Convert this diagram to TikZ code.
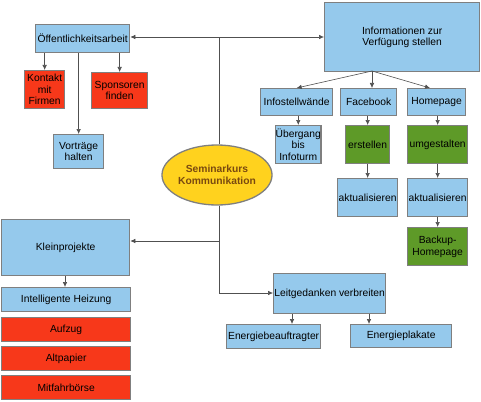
\documentclass[tikz,border=0pt]{standalone}
\usepackage{fontspec}
\setmainfont{Liberation Sans}
\usetikzlibrary{arrows.meta,shapes.geometric}
\definecolor{boxblue}{HTML}{95C9EC}
\definecolor{boxred}{HTML}{F7381A}
\definecolor{boxgreen}{HTML}{5E9A28}
\definecolor{elyellow}{HTML}{FFD21E}
\definecolor{bordergray}{HTML}{7F7F7F}
\definecolor{linegray}{HTML}{505050}
\definecolor{eltext}{HTML}{7A4A10}
\tikzset{
  box/.style={draw=bordergray, line width=1.3pt, inner sep=0pt, align=center,
    anchor=north west, font=\fontsize{10.3}{11.6}\selectfont},
  bluebox/.style={box, fill=boxblue},
  redbox/.style={box, fill=boxred},
  greenbox/.style={box, fill=boxgreen},
  conn/.style={draw=linegray, line width=0.6pt},
  arr/.style={conn, -{Latex[length=5pt,width=4.5pt]}},
}
\begin{document}
\begin{tikzpicture}[x=1pt,y=-1pt]
\useasboundingbox (0,0) rectangle (481,401);
% boxes: anchor north west at (x1,y1), size
\node[bluebox, minimum width=94pt, minimum height=28pt] (oeff) at (35,24) {Öffentlichkeitsarbeit};
\node[redbox, minimum width=40pt, minimum height=38pt] (kontakt) at (24,70) {Kontakt\\mit\\Firmen};
\node[redbox, minimum width=56pt, minimum height=36pt] (spons) at (91,72) {Sponsoren\\finden};
\node[bluebox, minimum width=50pt, minimum height=34pt] (vortr) at (53,134) {Vorträge\\halten};
\node[bluebox, minimum width=155pt, minimum height=69pt] (info) at (324,2) {Informationen zur\\Verfügung stellen};
\node[bluebox, minimum width=72pt, minimum height=27pt] (infost) at (260,88) {Infostellwände};
\node[bluebox, minimum width=56pt, minimum height=27pt] (fb) at (340,88) {Facebook};
\node[bluebox, minimum width=58pt, minimum height=27pt] (hp) at (407,88) {Homepage};
\node[bluebox, minimum width=44pt, minimum height=38pt] (ueber) at (275,125) {Übergang\\bis\\Infoturm};
\node[greenbox, minimum width=44pt, minimum height=38pt] (erst) at (345,125) {erstellen};
\node[greenbox, minimum width=60pt, minimum height=38pt] (umg) at (407,125) {umgestalten};
\node[bluebox, minimum width=60pt, minimum height=38pt] (akt1) at (337,178) {aktualisieren};
\node[bluebox, minimum width=60pt, minimum height=38pt] (akt2) at (407,178) {aktualisieren};
\node[greenbox, minimum width=60pt, minimum height=38pt] (backup) at (407,227) {Backup-\\Homepage};
\node[draw=bordergray, line width=1.3pt, fill=elyellow, ellipse, minimum width=104pt, minimum height=60pt,
  inner sep=0pt, align=center, text=eltext, font=\bfseries\fontsize{10.3}{11.6}\selectfont] (sem) at (217,175) {Seminarkurs\\Kommunikation};
\node[bluebox, minimum width=128pt, minimum height=56pt] (klein) at (1,219) {Kleinprojekte};
\node[bluebox, minimum width=129pt, minimum height=24pt] (heiz) at (1,287) {Intelligente Heizung};
\node[redbox, minimum width=129pt, minimum height=24pt] (aufzug) at (1,317) {Aufzug};
\node[redbox, minimum width=129pt, minimum height=24pt] (altp) at (1,346) {Altpapier};
\node[redbox, minimum width=129pt, minimum height=24pt] (mitf) at (1,375) {Mitfahrbörse};
\node[bluebox, minimum width=112pt, minimum height=40pt] (leit) at (273,273) {Leitgedanken verbreiten};
\node[bluebox, minimum width=94pt, minimum height=24pt] (energ) at (226,324) {Energiebeauftragter};
\node[bluebox, minimum width=101pt, minimum height=23pt] (plak) at (350,324) {Energieplakate};
% junctions
\coordinate (jtop) at (219,37);
\coordinate (jklein) at (219,241);
\coordinate (jleit) at (219,293);
\coordinate (fan) at (372,71);
\coordinate (hptip) at (430,88);
% connectors from the ellipse
\draw[conn] (sem.north -| jtop) -- (jtop);
\draw[arr] (jtop) -- (oeff.east |- jtop);
\draw[arr] (jtop) -- (info.west |- jtop);
\draw[conn] (sem.south -| jleit) -- (jleit);
\draw[arr] (jklein) -- (klein.east |- jklein);
\draw[arr] (jleit) -- (leit.west |- jleit);
% Öffentlichkeitsarbeit
\draw[arr] (oeff.south -| kontakt.north) -- (kontakt.north);
\draw[arr] (oeff.south -| spons.north) -- (spons.north);
\draw[arr] (oeff.south -| vortr.north) -- (vortr.north);
% Informationen
\draw[arr] (fan) -- (infost.north);
\draw[arr] (fan) -- (fan |- fb.north);
\draw[arr] (fan) -- (hptip);
\draw[arr] (infost.south -| ueber.north) -- (ueber.north);
\draw[arr] (fb.south -| erst.north) -- (erst.north);
\draw[arr] (erst.south) -- (erst.south |- akt1.north);
\draw[arr] (hp.south -| umg.north) -- (umg.north);
\draw[arr] (umg.south) -- (akt2.north);
\draw[arr] (akt2.south) -- (backup.north);
% Kleinprojekte
\draw[arr] (klein.south -| 65,0) -- (heiz.north -| 65,0);
% Leitgedanken
\draw[arr] (leit.south -| 292,0) -- (energ.north -| 292,0);
\draw[arr] (leit.south -| 369,0) -- (plak.north -| 369,0);
\end{tikzpicture}
\end{document}
